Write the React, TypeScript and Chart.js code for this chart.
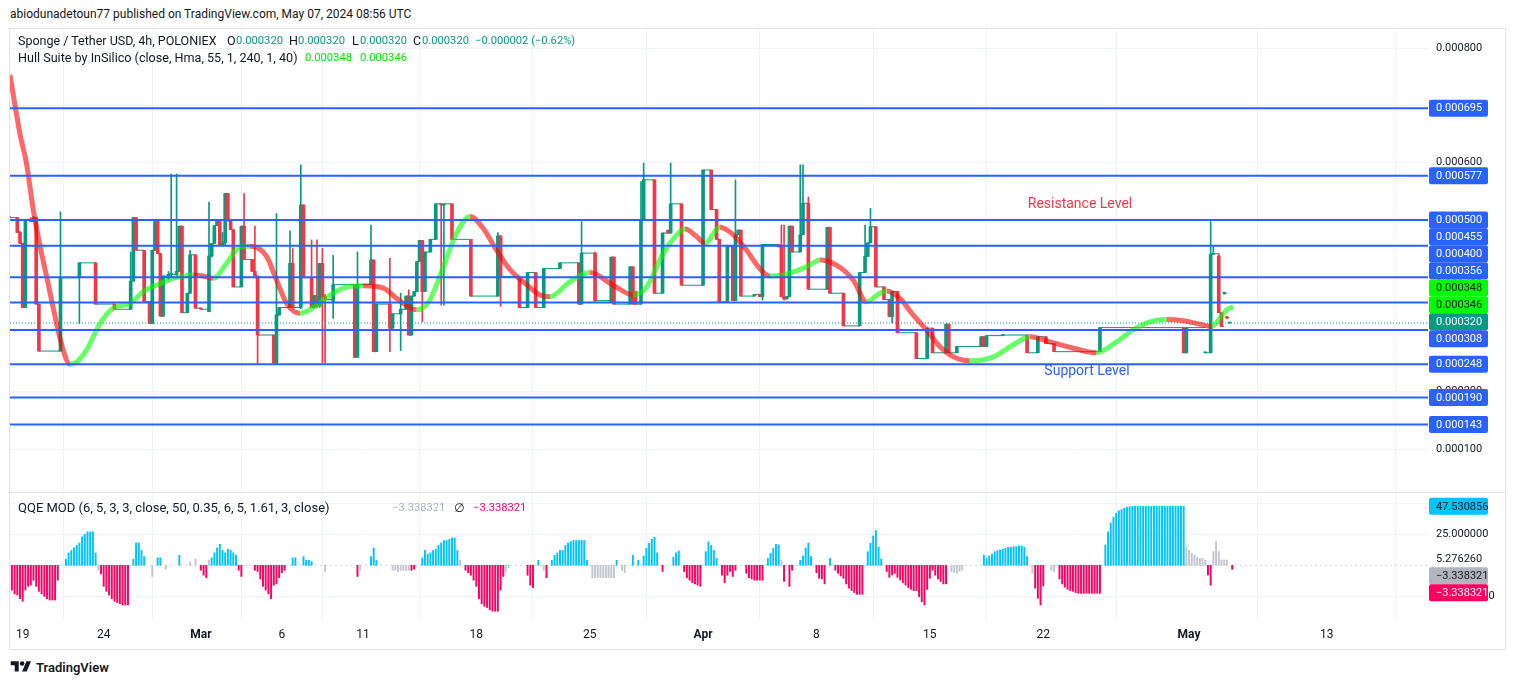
import React, { useEffect, useRef } from "react";
import { Chart, registerables } from "chart.js";

Chart.register(...registerables);

const FONT = "Roboto, 'Noto Sans', 'DejaVu Sans', sans-serif";
Chart.defaults.font.family = FONT;

// ---------- time axis: x = 4-hour bar number (bar 1 = 19 Feb 00:00) ----------
const dateTickBars = [1, 31, 67, 97, 127, 169, 211, 253, 295, 337, 379, 433, 484];
const dateTickLabels = ["19", "24", "Mar", "6", "11", "18", "25", "Apr", "8", "15", "22", "May", "13"];
const monthLabels = ["Mar", "Apr", "May"];

// ---------- OHLC, prices in millionths of USDT ----------
const candleBar = [
  -4, -1, 0, 1, 2, 4, 5, 6, 7, 15,
  22, 28, 35, 41, 42, 43, 46, 48, 49, 50,
  51, 52, 53, 55, 56, 58, 59, 60, 62, 63,
  65, 67, 70, 71, 72, 73, 74, 75, 76, 77,
  78, 79, 82, 83, 86, 87, 88, 94, 95, 96,
  100, 101, 104, 105, 108, 109, 110, 111, 112, 113,
  116, 124, 125, 130, 131, 132, 137, 138, 141, 143,
  144, 145, 146, 147, 148, 149, 150, 152, 154, 156,
  157, 160, 167, 177, 178, 185, 188, 191, 194, 200,
  207, 208, 213, 219, 220, 226, 227, 228, 230, 231,
  235, 238, 240, 241, 245, 253, 256, 258, 259, 262,
  264, 265, 266, 267, 272, 274, 275, 281, 282, 283,
  284, 285, 286, 289, 290, 292, 299, 300, 305, 311,
  313, 314, 315, 317, 320, 322, 323, 325, 332, 336,
  338, 343, 344, 347, 356, 357, 358, 364, 373, 377,
  380, 383, 400, 431, 432, 439, 441, 442, 444, 445,
  446, 447, 448,
];
const candleOpen = [
  504, 504, 478, 459, 347, 501, 497, 504, 353, 271,
  399, 425, 353, 344, 393, 504, 447, 357, 319, 447,
  499, 441, 332, 402, 405, 405, 410, 489, 338, 372,
  439, 346, 340, 437, 459, 490, 498, 456, 460, 546,
  498, 483, 383, 489, 431, 410, 402, 299, 250, 334,
  347, 424, 347, 526, 399, 347, 368, 350, 424, 366,
  358, 387, 260, 387, 430, 270, 353, 311, 336, 344,
  367, 299, 367, 375, 427, 464, 375, 444, 466, 528,
  526, 528, 466, 367, 472, 401, 347, 408, 347, 415,
  425, 353, 442, 356, 435, 353, 418, 375, 353, 499,
  570, 372, 482, 477, 528, 386, 587, 518, 466, 357,
  454, 359, 474, 482, 367, 370, 366, 457, 453, 366,
  362, 366, 489, 444, 474, 529, 379, 487, 372, 315,
  408, 436, 460, 488, 383, 361, 331, 375, 303, 258,
  311, 268, 318, 268, 279, 296, 279, 298, 299, 268,
  296, 284, 270, 312, 268, 268, 268, 440, 437, 338,
  372, 331, 320,
];
const candleHigh = [
  504, 504, 480, 459, 501, 504, 506, 504, 353, 514,
  425, 425, 353, 444, 504, 504, 447, 357, 447, 499,
  499, 441, 402, 410, 580, 580, 489, 489, 372, 447,
  439, 346, 531, 459, 490, 498, 498, 478, 546, 546,
  498, 483, 489, 546, 431, 489, 402, 299, 511, 347,
  481, 450, 596, 526, 465, 368, 465, 424, 450, 370,
  438, 387, 444, 491, 430, 353, 433, 336, 372, 367,
  378, 367, 375, 427, 464, 464, 444, 466, 528, 528,
  528, 528, 466, 478, 472, 401, 408, 408, 415, 425,
  425, 497, 444, 435, 435, 418, 418, 375, 567, 599,
  570, 477, 482, 599, 528, 587, 587, 518, 466, 454,
  454, 570, 482, 482, 370, 370, 457, 457, 491, 491,
  366, 489, 489, 596, 596, 540, 487, 487, 372, 408,
  491, 460, 520, 488, 383, 361, 375, 375, 303, 311,
  311, 318, 318, 279, 296, 296, 298, 299, 299, 296,
  296, 284, 312, 312, 312, 268, 497, 453, 441, 338,
  372, 331, 320,
];
const candleLow = [
  504, 478, 459, 347, 347, 497, 497, 353, 271, 271,
  319, 353, 344, 344, 393, 447, 357, 319, 319, 447,
  441, 332, 332, 395, 400, 400, 410, 338, 338, 372,
  346, 344, 340, 435, 459, 490, 456, 456, 456, 498,
  483, 383, 383, 431, 410, 402, 250, 250, 250, 334,
  347, 347, 345, 399, 347, 347, 347, 347, 250, 250,
  328, 260, 260, 387, 270, 270, 270, 311, 272, 344,
  299, 299, 367, 375, 427, 322, 375, 444, 466, 351,
  351, 466, 367, 367, 349, 347, 347, 347, 347, 415,
  353, 353, 356, 356, 353, 353, 353, 353, 353, 499,
  372, 372, 477, 477, 386, 386, 518, 466, 357, 357,
  359, 359, 474, 367, 367, 366, 360, 453, 366, 360,
  362, 366, 444, 444, 474, 379, 379, 372, 315, 315,
  408, 436, 460, 383, 361, 331, 320, 303, 258, 258,
  268, 268, 268, 268, 279, 279, 279, 298, 268, 268,
  284, 270, 270, 268, 268, 268, 268, 440, 338, 314,
  370, 327, 320,
];
const candleClose = [
  504, 478, 459, 347, 501, 497, 504, 353, 271, 399,
  425, 353, 344, 393, 504, 447, 357, 319, 447, 499,
  441, 332, 402, 405, 405, 410, 489, 338, 372, 439,
  346, 344, 437, 459, 490, 498, 456, 460, 546, 498,
  483, 383, 489, 431, 410, 402, 299, 250, 334, 347,
  424, 347, 526, 399, 347, 368, 350, 424, 366, 361,
  387, 260, 387, 430, 270, 353, 311, 336, 344, 367,
  299, 367, 375, 427, 464, 375, 444, 466, 528, 526,
  528, 466, 367, 472, 401, 347, 408, 347, 415, 425,
  353, 442, 359, 435, 353, 418, 353, 353, 499, 570,
  372, 477, 477, 528, 386, 587, 518, 466, 357, 454,
  359, 474, 482, 367, 370, 366, 457, 453, 366, 362,
  366, 489, 444, 474, 529, 379, 487, 372, 315, 408,
  436, 460, 488, 383, 361, 331, 375, 303, 258, 311,
  268, 318, 268, 279, 296, 279, 298, 299, 268, 296,
  284, 270, 312, 268, 312, 268, 440, 441, 338, 314,
  372, 329, 320,
];

// ---------- Hull Suite line (millionths of USDT) ----------
const hullBar = [
  -3.7, 0, 2.5, 5, 10.4, 16, 18.5, 21, 24.7, 29.6,
  34.6, 40.7, 45.7, 50.6, 56.8, 64.2, 67.9, 71.6, 76.5, 81.5,
  85.2, 91.4, 95, 98.8, 103.7, 109.9, 116, 122.2, 127.1, 134.6,
  139.5, 146.9, 151.8, 156.8, 161.7, 166.7, 171.6, 176.5, 181.5, 186.4,
  192.6, 196.3, 203.7, 211.1, 219.7, 227.1, 232.1, 238.3, 244.4, 246.3,
  250.6, 253.7, 259.2, 264.2, 269.1, 274, 277.8, 282.7, 291.3, 296.3,
  302.4, 308.6, 313.6, 318.5, 321, 325.9, 330.8, 335.8, 340.7, 345.7,
  351.8, 360.5, 367.9, 374, 381.5, 390.1, 398.7, 406.1, 412.3, 418.5,
  424.7, 430.8, 437, 441.3, 444.4, 446.9, 449.4,
];
const hullValue = [
  753, 650, 596, 515, 389, 273, 248, 252, 273, 319,
  346, 354, 375, 386, 398, 404, 402, 398, 424, 453,
  454, 436, 395, 354, 337, 351, 372, 384, 385, 381,
  363, 343, 360, 418, 477, 506, 485, 447, 413, 392,
  369, 366, 392, 408, 386, 369, 383, 442, 479, 484,
  471, 459, 487, 474, 447, 415, 402, 404, 418, 430,
  421, 395, 357, 372, 376, 363, 334, 308, 279, 261,
  254, 261, 282, 296, 287, 276, 268, 287, 308, 322,
  326, 324, 318, 314, 328, 343, 348,
];

// ---------- horizontal levels & last values (millionths of USDT) ----------
const levelValues = [695, 577, 500, 455, 400, 356, 308, 248, 190, 143];
const lastPrice = 320;
const hullLast = [348, 346];
const priceTicks = [100, 200, 300, 400, 500, 600, 700, 800];

// ---------- text annotations ----------
const noteText = ["Resistance Level", "Support Level"];
const noteBar = [392.6, 395.2];
const notePrice = [526, 234.5];
const noteColor = ["#f23645", "#2962ff"];

// ---------- QQE MOD histogram (runs of consecutive bars) ----------
const qqeRunStart = [
  -3, 17, 29, 30, 42, 49, 51, 54, 59, 63,
  65, 67, 70, 71, 81, 87, 101, 105, 113, 125,
  126, 130, 138, 145, 149, 163, 165, 180, 188, 192,
  194, 195, 197, 212, 221, 223, 227, 229, 231, 238,
  242, 246, 254, 260, 269, 277, 282, 283, 285, 289,
  295, 300, 302, 314, 321, 338, 345, 357, 375, 376,
  382, 385, 402, 432, 440, 442, 449,
];
const qqeRunColor = [
  "p", "b", "g", "p", "b", "g", "b", "g", "b", "g",
  "g", "p", "g", "b", "p", "p", "b", "b", "g", "p",
  "g", "b", "g", "p", "b", "g", "p", "g", "p", "b",
  "g", "p", "b", "g", "b", "g", "b", "b", "b", "p",
  "b", "p", "b", "p", "p", "b", "g", "p", "p", "b",
  "p", "b", "p", "b", "p", "p", "g", "b", "g", "p",
  "g", "p", "b", "g", "p", "g", "p",
];
const qqeRunValues = [
  [-20, -23, -24, -27, -29, -20, -17, -16, -12, -17, -21, -23, -25, -27, -28, -28, -28, -12],
  [5, 10, 12, 14, 16, 18, 23, 25, 27, 27, 27, 10],
  [-4],
  [-7, -17, -21, -24, -27, -29, -30, -31, -32, -32, -32],
  [5, 18, 18, 12, 7],
  [-9],
  [6, 6],
  [-3],
  [8],
  [3],
  [5],
  [-4, -8, -10],
  [4],
  [6, 10, 14, 17, 12, 10, 13, 12, 10, 8],
  [-4, -9],
  [-4, -5, -11, -17, -20, -23, -27, -16, -15, -10, -6, -4],
  [6, 6],
  [7, 4, 4, 3],
  [-5],
  [-9],
  [-4],
  [7, 14, 4],
  [-4, -4, -5, -4, -4, -4, -4],
  [-4, -3],
  [6, 12, 9, 10, 12, 13, 16, 18, 20, 20, 21, 22, 22, 12],
  [4],
  [-4, -6, -8, -12, -17, -27, -31, -33, -34, -36, -37, -37, -37, -20, -9],
  [-5, -2],
  [-8, -16, -18],
  [4],
  [-4],
  [-10],
  [4, 8, 10, 12, 12, 16, 18, 19, 20, 20, 20, 20, 20, 4],
  [-10, -10, -10, -10, -10, -10, -10, -10, -10],
  [4],
  [-4, -6],
  [8],
  [4],
  [7.5, 13.7, 17.7, 21, 22.6, 10],
  [-5],
  [6.5, 10, 11.6],
  [-5, -10, -12, -14, -15, -16, -17],
  [11, 19, 16, 12, 5.6],
  [-8, -14, -8, -5, -9, -4],
  [-6.5, -10, -11, -12, -12, -12, -12],
  [5.6, 9.7, 13.7, 17, 16.4],
  [4],
  [-13],
  [-17, -4],
  [4, 7.5, 14, 18, 7],
  [-6, -10.5, -11, -15],
  [5.6],
  [-4, -6.5, -8.6, -10.5, -15, -18.5, -20.4, -22, -23.4, -23.4, -23.4],
  [11, 17.7, 23.7, 28, 14.5, 5],
  [-5, -9.7, -7.8, -6.5, -9.7, -11.8, -14, -16, -18, -19.4, -20.4, -20.4, -25.3, -29.3, -32, -19.4, -10.5],
  [-4, -8, -11, -13, -15, -15],
  [-5, -6, -6.5, -5, -4],
  [8.3, 5.6, 7.5, 9, 11, 11.8, 12.4, 13, 13.7, 14.5, 14.5, 15, 15, 15.6, 15.6, 14.5, 7],
  [-6.5],
  [-18.5, -26.6, -32, -16.7],
  [-4, -5],
  [-11, -15, -17.7, -19.4, -20.4, -21, -22, -22.6, -22.6, -22.6, -22.6, -22.6, -22.6, -22.6, -22.6, -22.6],
  [16.4, 27, 34, 38.7, 42, 44, 45, 46, 46.8, 47.3, 47.5, 47.5, 47.5, 47.5, 47.5, 47.5, 47.5, 47.5, 47.5, 47.5,
    47.5, 47.5, 47.5, 47.5, 47.5, 47.5, 47.5, 47.5, 47.5, 47.53],
  [15, 12.4, 9.7, 8.3, 6.5, 5.6, 5.6, 4.3],
  [-7.8, -16],
  [11, 19, 11, 4.3, 4.3, 4.3],
  [-3.3],
];
const qqeTicks = [50, 25, -25];
const qqeLast = 47.530856;
const qqeSignal = -3.338321;
const qqeMarker = 5.27626;

// ---------- layout / style ----------
const X_MIN = -3.7;
const X_MAX = 521.5;
const P_MIN = 25;
const P_MAX = 833.2;
const Q_MIN = -44.1;
const Q_MAX = 58.3;
const AXIS_W = 77;
const GRID = "#f0f3fa";
const UP = "#089981";
const DOWN = "#f23645";
const HULL_UP = "rgba(0,255,0,0.6)";
const HULL_DN = "rgba(255,0,0,0.6)";
const QQE_COL: Record<string, string> = { b: "#00c3ff", p: "#ff0062", g: "#c5c7ce" };
const TEXT = "#131722";

const priceFmt = (u: number) => (u / 1e6).toFixed(6);
const qqeFmt = (v: number) => (v < 0 ? "\u2212" : "") + Math.abs(v).toFixed(6);

type Box = { value: number; text: string; bg: string; fg: string; px?: number; y?: number };

function stackLabels(items: Box[], h: number, reserved: { top: number; bottom: number }[]) {
  let groups = items.map((it) => ({ m: [it], c: it.px as number }));
  let merged = true;
  while (merged) {
    merged = false;
    for (let i = 0; i < groups.length - 1; i++) {
      const a = groups[i];
      const b = groups[i + 1];
      const aBottom = a.c + (a.m.length * h) / 2;
      const bTop = b.c - (b.m.length * h) / 2;
      if (aBottom - bTop > 1) {
        const m = [...a.m, ...b.m];
        groups.splice(i, 2, { m, c: ((m[0].px as number) + (m[m.length - 1].px as number)) / 2 });
        merged = true;
        break;
      }
    }
  }
  groups.forEach((g) => {
    let top = g.c - (g.m.length * h) / 2;
    reserved.forEach((r) => {
      if (top < r.bottom && top + g.m.length * h > r.top) top = r.bottom;
    });
    g.m.forEach((it, k) => (it.y = top + h * k + h / 2));
  });
}

function drawBoxes(chart: any, boxes: Box[], reserved: { top: number; bottom: number }[]) {
  const { ctx, chartArea } = chart;
  const ys = chart.scales.y;
  const items = boxes.map((b) => ({ ...b, px: ys.getPixelForValue(b.value) })).sort((a, b) => a.px - b.px);
  stackLabels(items, 17, reserved);
  ctx.save();
  ctx.font = `11px ${FONT}`;
  ctx.textBaseline = "middle";
  ctx.textAlign = "left";
  items.forEach((it) => {
    const x = chartArea.right + 1;
    const y = (it.y as number) - 8.5;
    ctx.fillStyle = it.bg;
    ctx.beginPath();
    if (ctx.roundRect) ctx.roundRect(x, y, 59, 17, 2);
    else ctx.rect(x, y, 59, 17);
    ctx.fill();
    ctx.fillStyle = it.fg;
    ctx.fillText(it.text, chartArea.right + 8, (it.y as number) + 0.5);
  });
  ctx.restore();
}

function priceConfig(): any {
  const colors = candleBar.map((_, i) => (candleClose[i] >= candleOpen[i] ? UP : DOWN));
  const flat: any[] = [];
  for (let i = 0; i < candleBar.length - 1; i++) {
    flat.push({ x: candleBar[i], y: candleClose[i] });
    flat.push({ x: candleBar[i + 1], y: candleClose[i] });
    flat.push({ x: candleBar[i + 1], y: null });
  }
  const levelSets = levelValues.map((v) => ({
    type: "line",
    data: [{ x: X_MIN, y: v }, { x: X_MAX, y: v }],
    borderColor: "#2962ff",
    borderWidth: 2,
    pointRadius: 0,
    order: 0,
  }));
  const boxes: Box[] = [
    ...levelValues.map((v) => ({ value: v, text: priceFmt(v), bg: "#2962ff", fg: "#ffffff" })),
    ...hullLast.map((v) => ({ value: v, text: priceFmt(v), bg: "#00ff00", fg: TEXT })),
    { value: lastPrice, text: priceFmt(lastPrice), bg: UP, fg: "#ffffff" },
  ];
  return {
    type: "bar",
    data: {
      datasets: [
        ...levelSets,
        {
          type: "line",
          data: hullBar.map((b, i) => ({ x: b, y: hullValue[i] })),
          borderWidth: 5,
          borderColor: HULL_UP,
          pointRadius: 0,
          cubicInterpolationMode: "monotone",
          borderJoinStyle: "round",
          segment: {
            borderColor: (c: any) => (c.p1.parsed.y >= c.p0.parsed.y ? HULL_UP : HULL_DN),
          },
          order: 1,
        },
        {
          type: "line",
          data: [{ x: X_MIN, y: lastPrice }, { x: X_MAX, y: lastPrice }],
          borderColor: UP,
          borderWidth: 1,
          borderDash: [1, 2],
          pointRadius: 0,
          order: 2,
        },
        {
          type: "bar",
          data: candleBar.map((b, i) => ({ x: b, y: [candleOpen[i], candleClose[i]] })),
          backgroundColor: colors,
          barThickness: 3,
          minBarLength: 1,
          grouped: false,
          order: 3,
        },
        {
          type: "bar",
          data: candleBar.map((b, i) => ({ x: b, y: [candleLow[i], candleHigh[i]] })),
          backgroundColor: colors,
          barThickness: 1,
          grouped: false,
          order: 4,
        },
        {
          type: "line",
          data: flat,
          borderColor: UP,
          borderWidth: 1,
          pointRadius: 0,
          spanGaps: false,
          order: 5,
        },
      ],
    },
    options: {
      animation: false,
      responsive: true,
      maintainAspectRatio: false,
      events: [],
      layout: { padding: 0 },
      plugins: { legend: { display: false }, tooltip: { enabled: false } },
      scales: {
        x: {
          type: "linear",
          min: X_MIN,
          max: X_MAX,
          offset: false,
          afterBuildTicks: (s: any) => {
            s.ticks = dateTickBars.map((v) => ({ value: v }));
          },
          ticks: { display: false },
          grid: { color: GRID, drawTicks: false },
          border: { display: false },
          afterFit: (s: any) => {
            s.height = 0;
            s.paddingLeft = 0;
            s.paddingRight = 0;
          },
        },
        y: {
          type: "linear",
          position: "right",
          min: P_MIN,
          max: P_MAX,
          afterBuildTicks: (s: any) => {
            s.ticks = priceTicks.map((v) => ({ value: v }));
          },
          ticks: {
            callback: (v: any) => priceFmt(Number(v)),
            font: { size: 11, family: FONT },
            color: TEXT,
            padding: 8,
          },
          grid: { color: GRID, drawTicks: false },
          border: { display: false },
          afterFit: (s: any) => {
            s.width = AXIS_W;
            s.paddingTop = 0;
            s.paddingBottom = 0;
          },
        },
      },
    },
    plugins: [
      {
        id: "notes",
        afterDatasetsDraw(chart: any) {
          const { ctx } = chart;
          ctx.save();
          ctx.font = `14px ${FONT}`;
          ctx.textAlign = "center";
          ctx.textBaseline = "middle";
          noteText.forEach((t, i) => {
            ctx.fillStyle = noteColor[i];
            ctx.fillText(t, chart.scales.x.getPixelForValue(noteBar[i]), chart.scales.y.getPixelForValue(notePrice[i]));
          });
          ctx.restore();
        },
      },
      {
        id: "priceBoxes",
        afterDraw(chart: any) {
          drawBoxes(chart, boxes, []);
        },
      },
    ],
  };
}

function qqeConfig(): any {
  const pts: any[] = [];
  const cols: string[] = [];
  qqeRunStart.forEach((s, r) => {
    qqeRunValues[r].forEach((v, k) => {
      pts.push({ x: s + k, y: v });
      cols.push(QQE_COL[qqeRunColor[r]]);
    });
  });
  const boxes: Box[] = [
    { value: qqeLast, text: qqeFmt(qqeLast), bg: "#00c3ff", fg: TEXT },
    { value: qqeSignal, text: qqeFmt(qqeSignal), bg: "#b2b5be", fg: TEXT },
    { value: qqeSignal, text: qqeFmt(qqeSignal), bg: "#ff0062", fg: "#ffffff" },
  ];
  return {
    type: "bar",
    data: {
      datasets: [
        {
          type: "bar",
          data: pts,
          backgroundColor: cols,
          barThickness: 1.3,
          grouped: false,
          order: 1,
        },
        {
          type: "line",
          data: [{ x: X_MIN, y: 0 }, { x: X_MAX, y: 0 }],
          borderColor: "rgba(120,123,134,0.35)",
          borderWidth: 1,
          borderDash: [2, 3],
          pointRadius: 0,
          order: 2,
        },
      ],
    },
    options: {
      animation: false,
      responsive: true,
      maintainAspectRatio: false,
      events: [],
      layout: { padding: 0 },
      plugins: { legend: { display: false }, tooltip: { enabled: false } },
      scales: {
        x: {
          type: "linear",
          min: X_MIN,
          max: X_MAX,
          offset: false,
          afterBuildTicks: (s: any) => {
            s.ticks = dateTickBars.map((v) => ({ value: v }));
          },
          ticks: {
            autoSkip: false,
            maxRotation: 0,
            padding: 8,
            color: TEXT,
            callback: (_v: any, i: number) => dateTickLabels[i],
            font: (c: any) => ({
              size: 12,
              family: FONT,
              weight: monthLabels.includes(dateTickLabels[c.index]) ? "bold" : "normal",
            }),
          },
          grid: { color: GRID, drawTicks: false },
          border: { display: false },
          afterFit: (s: any) => {
            s.height = 30;
            s.paddingLeft = 0;
            s.paddingRight = 0;
          },
        },
        y: {
          type: "linear",
          position: "right",
          min: Q_MIN,
          max: Q_MAX,
          afterBuildTicks: (s: any) => {
            s.ticks = qqeTicks.map((v) => ({ value: v }));
          },
          ticks: {
            callback: (v: any) => qqeFmt(Number(v)),
            font: { size: 11, family: FONT },
            color: TEXT,
            padding: 8,
          },
          grid: { color: GRID, drawTicks: false },
          border: { display: false },
          afterFit: (s: any) => {
            s.width = AXIS_W;
            s.paddingTop = 0;
            s.paddingBottom = 0;
          },
        },
      },
    },
    plugins: [
      {
        id: "qqeBoxes",
        afterDraw(chart: any) {
          const { ctx, chartArea } = chart;
          const my = chart.scales.y.getPixelForValue(qqeMarker);
          ctx.save();
          ctx.font = `11px ${FONT}`;
          ctx.textBaseline = "middle";
          ctx.fillStyle = TEXT;
          ctx.fillText(qqeFmt(qqeMarker), chartArea.right + 8, my + 0.5);
          ctx.restore();
          drawBoxes(chart, boxes, [{ top: my - 8.5, bottom: my + 8.5 }]);
        },
      },
    ],
  };
}

const abs = (l: number, t: number, extra: any = {}) => ({ position: "absolute" as const, left: l, top: t, ...extra });

export default function App() {
  const priceRef = useRef<HTMLCanvasElement>(null);
  const qqeRef = useRef<HTMLCanvasElement>(null);

  useEffect(() => {
    const c1 = new Chart(priceRef.current as HTMLCanvasElement, priceConfig());
    const c2 = new Chart(qqeRef.current as HTMLCanvasElement, qqeConfig());
    return () => {
      c1.destroy();
      c2.destroy();
    };
  }, []);

  const lbl = (l: number, t: number, size: number, color: string = TEXT) =>
    abs(l, t, { font: `${size}px ${FONT}`, lineHeight: "16px", whiteSpace: "pre", color, zIndex: 3 });
  const lime = "#00e600";

  return (
    <div
      style={{
        position: "fixed",
        left: 0,
        top: 0,
        width: 1515,
        height: 685,
        background: "#ffffff",
        overflow: "hidden",
        fontFamily: FONT,
        color: TEXT,
      }}
    >
      <div style={lbl(10, 6, 12)}>abiodunadetoun77 published on TradingView.com, May 07, 2024 08:56 UTC</div>

      {/* frame */}
      <div style={abs(9, 28, { width: 1497, height: 622, border: "1px solid #e0e3eb", boxSizing: "border-box" })} />

      <div style={abs(10, 29, { width: 1495, height: 463 })}>
        <canvas ref={priceRef} />
      </div>
      <div style={abs(10, 492, { width: 1495, height: 1, background: "#e0e3eb", zIndex: 2 })} />
      <div style={abs(10, 493, { width: 1495, height: 157 })}>
        <canvas ref={qqeRef} />
      </div>

      {/* main legend */}
      <div style={lbl(18, 33, 12.5)}>Sponge / Tether USD, 4h, POLONIEX</div>
      <div style={lbl(227, 33, 12.5)}>O</div>
      <div style={lbl(236, 33, 11.2, UP)}>0.000320</div>
      <div style={lbl(289, 33, 12.5)}>H</div>
      <div style={lbl(298, 33, 11.2, UP)}>0.000320</div>
      <div style={lbl(352, 33, 12.5)}>L</div>
      <div style={lbl(360, 33, 11.2, UP)}>0.000320</div>
      <div style={lbl(413, 33, 12.5)}>C</div>
      <div style={lbl(422, 33, 11.2, UP)}>0.000320</div>
      <div style={lbl(475, 33, 11.2, UP)}>{"\u22120.000002 (\u22120.62%)"}</div>

      <div style={lbl(18, 50, 12.6)}>Hull Suite by InSilico (close, Hma, 55, 1, 240, 1, 40)</div>
      <div style={lbl(305, 50, 11.2, lime)}>0.000348</div>
      <div style={lbl(360, 50, 11.2, lime)}>0.000346</div>

      <div style={lbl(18, 500, 13)}>QQE MOD (6, 5, 3, 3, close, 50, 0.35, 6, 5, 1.61, 3, close)</div>
      <div style={lbl(392, 500, 11.2, "#b2b5be")}>{"\u22123.338321"}</div>
      <div style={lbl(454, 500, 12)}>{"\u2205"}</div>
      <div style={lbl(473, 500, 11.2, "#ff0062")}>{"\u22123.338321"}</div>

      {/* TradingView mark */}
      <div style={abs(10, 659, { display: "flex", alignItems: "center", gap: 4 })}>
        <svg width="22" height="16" viewBox="0 0 36 28">
          <path d="M14 22H7V11H0V4h14v18z" fill={TEXT} />
          <circle cx="20" cy="8" r="4" fill={TEXT} />
          <path d="M28 22h-8l7.5-18h8L28 22z" fill={TEXT} />
        </svg>
        <span style={{ font: `600 13px ${FONT}`, color: TEXT }}>TradingView</span>
      </div>
    </div>
  );
}
